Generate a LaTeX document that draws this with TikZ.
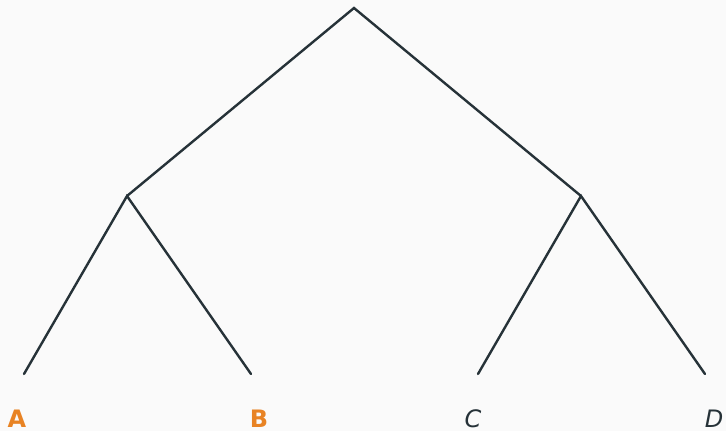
\documentclass[tikz,border=0pt]{standalone}
\usepackage{fontspec}
\setmainfont{DejaVu Sans}
\usepackage{xcolor}
\usetikzlibrary{positioning}
\definecolor{edgecolor}{RGB}{38,50,56}
\definecolor{orangecolor}{RGB}{232,131,36}
\definecolor{bgcolor}{RGB}{250,250,250}

\begin{document}
\begin{tikzpicture}[x=1pt, y=-1pt,
  branch/.style={edgecolor, line width=2.4pt, line cap=round},
  leaflab/.style={font=\fontsize{24}{26}\selectfont, anchor=base}]
  % Canvas
  \fill[bgcolor] (0,0) rectangle (726,431);
  \useasboundingbox (0,0) rectangle (726,431);

  % Tree points
  \coordinate (root) at (354,8);
  \coordinate (lft) at (127,196);
  \coordinate (rgt) at (581,196);
  \coordinate (la) at (24,374);
  \coordinate (lb) at (251,374);
  \coordinate (lc) at (478,374);
  \coordinate (ld) at (705,374);

  % Branches
  \draw[branch] (lft) -- (root) -- (rgt);
  \draw[branch] (la) -- (lft) -- (lb);
  \draw[branch] (lc) -- (rgt) -- (ld);

  % Leaf labels
  \node[leaflab, text=orangecolor, font=\fontsize{24}{26}\selectfont\bfseries] (nA) at (17,427) {A};
  \node[leaflab, text=orangecolor, font=\fontsize{24}{26}\selectfont\bfseries] (nB) at (259,427) {B};
  \node[leaflab, text=edgecolor, font=\fontsize{24}{26}\selectfont\itshape] (nC) at (473,427) {C};
  \node[leaflab, text=edgecolor, font=\fontsize{24}{26}\selectfont\itshape] (nD) at (714,427) {D};
\end{tikzpicture}
\end{document}
